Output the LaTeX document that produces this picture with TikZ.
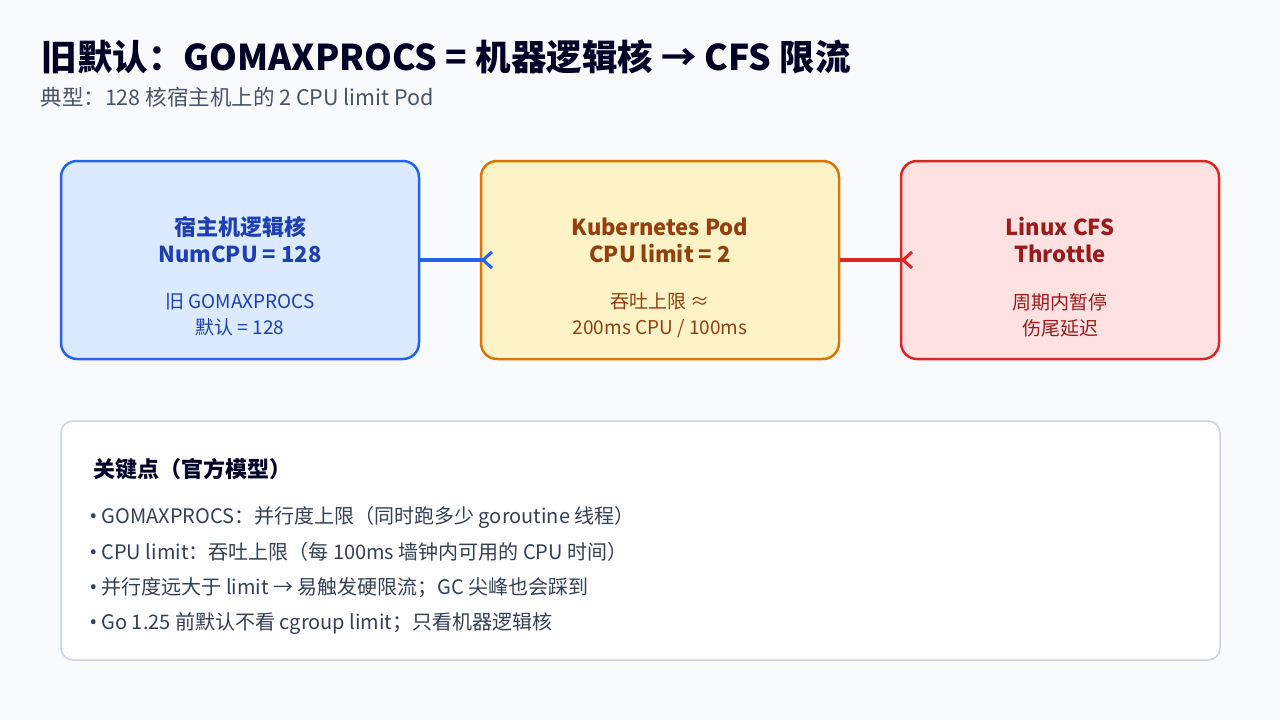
\documentclass[tikz,border=0pt]{standalone}
\usepackage{fontspec}
\usetikzlibrary{calc}
\setmainfont{Noto Sans CJK SC}
\newfontfamily\lat{Noto Sans}
\begin{document}
\begin{tikzpicture}[x=1pt,y=-1pt,
  box/.style={draw,line width=2.5pt,rounded corners=16pt},
  ttl/.style={font=\fontsize{22}{27}\selectfont\bfseries,align=center},
  sub/.style={font=\fontsize{19}{26}\selectfont,align=center}]
\definecolor{bg}{HTML}{F8FAFC}
\definecolor{bf}{HTML}{DBEAFE}\definecolor{bs}{HTML}{2563EB}\definecolor{bt}{HTML}{1E40AF}
\definecolor{of}{HTML}{FEF3C7}\definecolor{os}{HTML}{D97706}\definecolor{ot}{HTML}{92400E}
\definecolor{rf}{HTML}{FEE2E2}\definecolor{rs}{HTML}{DC2626}\definecolor{rt}{HTML}{991B1B}
\fill[bg] (0,0) rectangle (1280,720);
\useasboundingbox (0,0) rectangle (1280,720);
\node[anchor=west,text=black!85!blue,font=\fontsize{35.5}{40}\selectfont\bfseries] (title) at (38,57) {旧默认：GOMAXPROCS = 机器逻辑核 → CFS 限流};
\node[anchor=west,text={rgb,255:red,71;green,85;blue,105},font=\fontsize{21.5}{24}\selectfont] (subt) at (37,97) {典型：128 核宿主机上的 2 CPU limit Pod};
\draw[box,fill=bf,draw=bs] (61,161) rectangle (419,359);
\draw[box,fill=of,draw=os] (481,161) rectangle (839,359);
\draw[box,fill=rf,draw=rs] (901,161) rectangle (1219,359);
\node[ttl,text=bt] (t1) at (240,240) {宿主机逻辑核\\NumCPU = 128};
\node[sub,text=bt] (s1) at (240,315) {旧 GOMAXPROCS\\默认 = 128};
\node[ttl,text=ot] (t2) at (660,240) {Kubernetes Pod\\CPU limit = 2};
\node[sub,text=ot] (s2) at (660,315) {吞吐上限 ≈\\200ms CPU / 100ms};
\node[ttl,text=rt] (t3) at (1060,240) {Linux CFS\\Throttle};
\node[sub,text=rt] (s3) at (1060,315) {周期内暂停\\伤尾延迟};
\coordinate (a1) at (420,260); \coordinate (a2) at (483,260);
\coordinate (b1) at (840,260); \coordinate (b2) at (903,260);
\draw[bs,line width=4pt] (a1) -- (a2);
\draw[bs,line width=3pt] ($(a2)+(9,-8)$) -- (a2) -- ($(a2)+(9,8)$);
\draw[rs,line width=4pt] (b1) -- (b2);
\draw[rs,line width=3pt] ($(b2)+(9,-8)$) -- (b2) -- ($(b2)+(9,8)$);
\draw[fill=white,draw={rgb,255:red,203;green,213;blue,225},line width=1.5pt,rounded corners=12pt] (61,421) rectangle (1220,660);
\node[anchor=west,text=black!85!blue,font=\fontsize{22}{26}\selectfont\bfseries] (kh) at (90,469) {关键点（官方模型）};
\begin{scope}[every node/.style={anchor=west,text={rgb,255:red,51;green,65;blue,85},font=\fontsize{20}{24}\selectfont}]
\node (k1) at (86,517) {{\lat •} GOMAXPROCS：并行度上限（同时跑多少 goroutine 线程）};
\node (k2) at (86,552) {{\lat •} CPU limit：吞吐上限（每 100ms 墙钟内可用的 CPU 时间）};
\node (k3) at (86,588) {{\lat •} 并行度远大于 limit → 易触发硬限流；GC 尖峰也会踩到};
\node (k4) at (86,624) {{\lat •} Go 1.25 前默认不看 cgroup limit；只看机器逻辑核};
\end{scope}
\end{tikzpicture}
\end{document}
